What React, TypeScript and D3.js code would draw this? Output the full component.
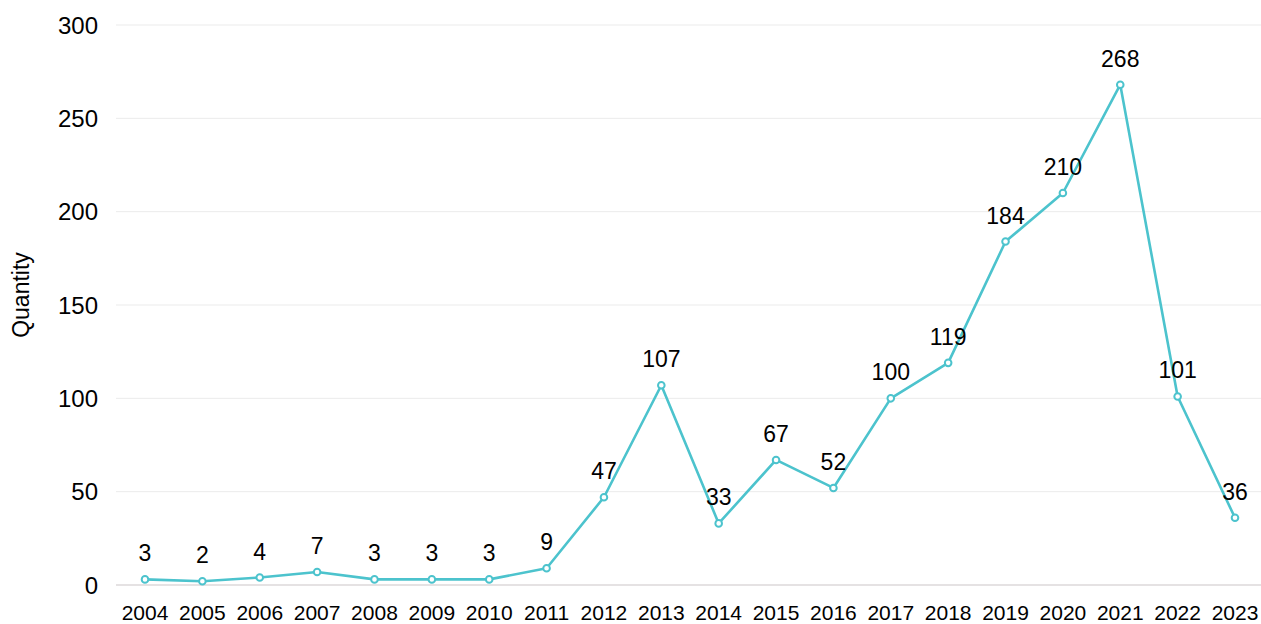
import * as d3 from "d3";
import { useEffect, useRef } from "react";

const years = [
  "2004", "2005", "2006", "2007", "2008", "2009", "2010", "2011", "2012", "2013",
  "2014", "2015", "2016", "2017", "2018", "2019", "2020", "2021", "2022", "2023",
];
const quantities = [3, 2, 4, 7, 3, 3, 3, 9, 47, 107, 33, 67, 52, 100, 119, 184, 210, 268, 101, 36];
const yTicks = [0, 50, 100, 150, 200, 250, 300];

const App = () => {
  const svgRef = useRef<SVGSVGElement>(null);

  useEffect(() => {
    const width = 1261;
    const height = 624;
    const svg = d3.select(svgRef.current);
    svg.selectAll("*").remove();

    const font = "Liberation Sans, Arial, sans-serif";
    const color = "#4cc3cd";

    const x = d3.scalePoint<string>().domain(years).range([145, 1235]);
    const y = d3.scaleLinear().domain([0, 300]).range([585, 25]);

    // gridlines
    svg.append("g")
      .selectAll("line")
      .data(yTicks)
      .join("line")
      .attr("x1", 116)
      .attr("x2", width)
      .attr("y1", d => y(d))
      .attr("y2", d => y(d))
      .attr("stroke", d => (d === 0 ? "#dcd9da" : "#ebebeb"))
      .attr("stroke-width", d => (d === 0 ? 1.5 : 1));

    // y tick labels
    svg.append("g")
      .selectAll("text")
      .data(yTicks)
      .join("text")
      .attr("x", 98)
      .attr("y", d => y(d))
      .attr("dy", "0.36em")
      .attr("text-anchor", "end")
      .attr("font-family", font)
      .attr("font-size", 24)
      .attr("fill", "#000")
      .text(d => d);

    // x tick labels
    svg.append("g")
      .selectAll("text")
      .data(years)
      .join("text")
      .attr("x", d => x(d)!)
      .attr("y", 620)
      .attr("text-anchor", "middle")
      .attr("font-family", font)
      .attr("font-size", 21)
      .attr("fill", "#000")
      .text(d => d);

    // axis title
    svg.append("text")
      .attr("transform", `translate(29,295) rotate(-90)`)
      .attr("text-anchor", "middle")
      .attr("font-family", font)
      .attr("font-size", 23)
      .attr("fill", "#000")
      .text("Quantity");

    const points = years.map((yr, i) => ({ year: yr, value: quantities[i] }));

    const line = d3.line<{ year: string; value: number }>()
      .x(d => x(d.year)!)
      .y(d => y(d.value));

    svg.append("path")
      .datum(points)
      .attr("fill", "none")
      .attr("stroke", color)
      .attr("stroke-width", 2.6)
      .attr("stroke-linejoin", "round")
      .attr("d", line);

    svg.append("g")
      .selectAll("circle")
      .data(points)
      .join("circle")
      .attr("cx", d => x(d.year)!)
      .attr("cy", d => y(d.value))
      .attr("r", 3.3)
      .attr("fill", "#fff")
      .attr("stroke", color)
      .attr("stroke-width", 2);

    // data labels
    svg.append("g")
      .selectAll("text")
      .data(points)
      .join("text")
      .attr("x", d => x(d.year)!)
      .attr("y", d => y(d.value) - 18)
      .attr("text-anchor", "middle")
      .attr("font-family", font)
      .attr("font-size", 23)
      .attr("fill", "#000")
      .text(d => d.value);
  }, []);

  return (
    <svg
      ref={svgRef}
      width={1261}
      height={624}
      style={{ position: "absolute", left: 0, top: 0, background: "#fff" }}
    />
  );
};

export default App;
